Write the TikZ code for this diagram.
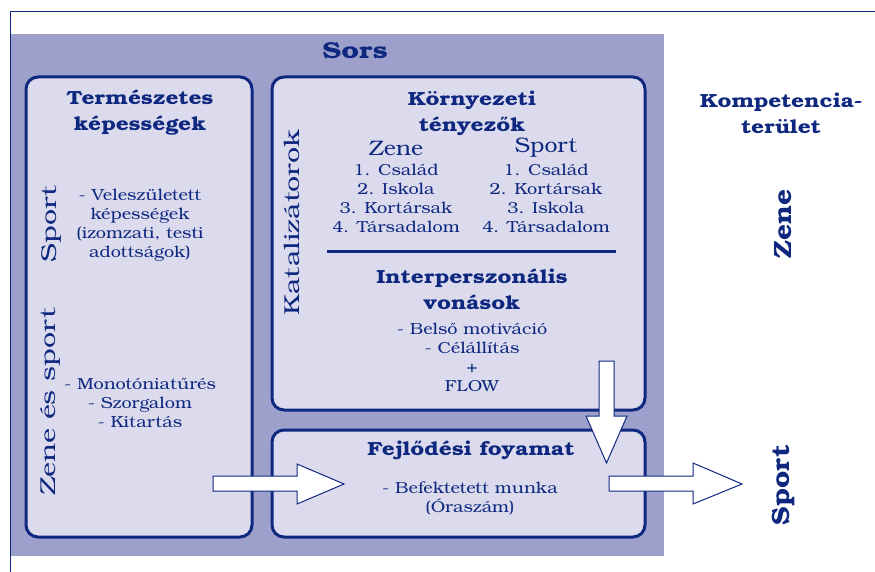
\documentclass[tikz,border=0pt]{standalone}
\usepackage{fontspec}
\setmainfont{TeX Gyre Bonum}
\newfontfamily\fBody{TeX Gyre Bonum}[FakeStretch=1.13]
\newfontfamily\fHead{TeX Gyre Bonum}[FakeStretch=1.19]
\newfontfamily\fSub{TeX Gyre Bonum}[FakeStretch=1.1]
\newfontfamily\fRot{TeX Gyre Bonum}[FakeStretch=1.33]
\newfontfamily\fSors{TeX Gyre Bonum}[FakeStretch=1.25]
\newfontfamily\fRight{TeX Gyre Bonum}[FakeStretch=1.12]
\definecolor{navy}{RGB}{14,40,128}
\definecolor{bgpurple}{RGB}{158,160,204}
\definecolor{panelfill}{RGB}{220,219,237}
\tikzset{
  panel/.style={draw=navy, fill=panelfill, line width=3pt, rounded corners=12pt, inner sep=0pt},
  head/.style={text=navy, align=center, font=\fHead\bfseries\fontsize{19}{26}\selectfont, inner sep=0pt},
  body/.style={text=navy, align=center, font=\fBody\fontsize{16}{19}\selectfont, inner sep=0pt},
  sub/.style={text=navy, align=center, font=\fSub\fontsize{21}{24}\selectfont, inner sep=0pt},
  rot/.style={text=navy, align=center, font=\fRot\fontsize{21.5}{24}\selectfont, inner sep=0pt, rotate=90},
  rhead/.style={text=navy, align=center, font=\fRight\bfseries\fontsize{25}{28}\selectfont, inner sep=0pt, rotate=90},
  blockarrow/.style={draw=navy, fill=white, line width=1pt, line join=miter},
}
\begin{document}
\begin{tikzpicture}[x=1pt,y=-1pt]
\useasboundingbox (0,0) rectangle (875,572);
\fill[white] (0,0) rectangle (875,572);
\fill[bgpurple] (10,34) rectangle (664,556);
\draw[navy, line width=1pt] (875,12) -- (10,12) -- (10,572);
\node[text=navy, font=\fSors\bfseries\fontsize{23}{26}\selectfont] (sors) at (355,51) {Sors};

% panels
\node[panel, minimum width=226pt, minimum height=460pt] (nat) at (139,307) {};
\node[panel, minimum width=373pt, minimum height=333pt] (kat) at (458.5,243.5) {};
\node[panel, minimum width=373pt, minimum height=107pt] (fej) at (458.5,483.5) {};

% left panel
\node[head] (natT) at (140,113) {Természetes\\képességek};
\node[rot] (lsport) at (51,224) {Sport};
\node[rot] (lzs) at (51,402) {Zene és sport};
\node[body] (vel) at (140,225) {- Veleszületett\\képességek\\(izomzati, testi\\adottságok)};
\node[body] (mon) at (140,403) {- Monotóniatűrés\\- Szorgalom\\- Kitartás};

% middle panel
\node[rot] (katl) at (292,223) {Katalizátorok};
\node[head] (korn) at (472,113) {Környezeti\\tényezők};
\node[sub] (mz) at (396,148) {Zene};
\node[sub] (ms) at (546,148) {Sport};
\node[body] (zl) at (396,198.5) {1. Család\\2. Iskola\\3. Kortársak\\4. Társadalom};
\node[body] (sl) at (546,198.5) {1. Család\\2. Kortársak\\3. Iskola\\4. Társadalom};
\draw[navy, line width=3pt] (327,251) -- (616,251);
\node[head] (inter) at (472,289) {Interperszonális\\vonások};
\node[body] (belso) at (472,357.5) {- Belső motiváció\\- Célállítás\\+\\FLOW};

% bottom panel
\node[head] (fejT) at (471,450) {Fejlődési foyamat};
\node[body] (bef) at (470,498.5) {- Befektetett munka\\(Óraszám)};

% right column
\node[head] (komp) at (781,113) {Kompetencia-\\terület};
\node[rhead] (rz) at (783,224) {Zene};
\node[rhead] (rs) at (783,485) {Sport};

% block arrows
\draw[blockarrow] (213,476) -- (297,476) -- (297,464) -- (344,484) -- (297,504) -- (297,491) -- (213,491) -- cycle;
\draw[blockarrow] (599,361) -- (614,361) -- (614,416) -- (627,416) -- (606.5,463) -- (586,416) -- (599,416) -- cycle;
\draw[blockarrow] (609,476) -- (693,476) -- (693,463) -- (742,484) -- (693,504) -- (693,491) -- (609,491) -- cycle;
\end{tikzpicture}
\end{document}
